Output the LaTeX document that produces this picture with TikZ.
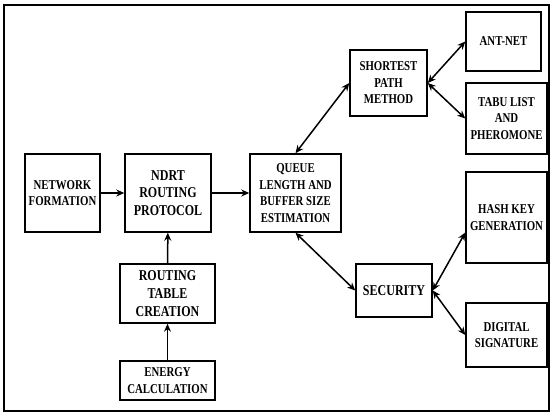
\documentclass[tikz,border=0pt]{standalone}
\usepackage{fontspec}
\setmainfont[FakeStretch=0.8]{Liberation Serif}
\usetikzlibrary{arrows.meta}
\tikzset{
  blk/.style={draw, line width=1.5pt, align=center, inner sep=1pt,
    font=\fontsize{13.5}{16.5}\selectfont\bfseries},
  bigblk/.style={blk, font=\fontsize{15}{17.7}\selectfont\bfseries},
}
\begin{document}
\begin{tikzpicture}[x=1pt,y=-1pt]
\useasboundingbox (0,0) rectangle (551,414);
\draw[line width=1.5pt] (4,5) rectangle (549,411);

\node[blk, minimum width=75pt, minimum height=78pt] (net) at (62.5,193) {NETWORK\\FORMATION};
\node[bigblk, minimum width=86pt, minimum height=78pt] (ndrt) at (168,193) {NDRT\\ROUTING\\PROTOCOL};
\node[blk, minimum width=91pt, minimum height=78pt] (queue) at (295.5,193) {QUEUE\\LENGTH AND\\BUFFER SIZE\\ESTIMATION};
\node[bigblk, minimum width=95pt, minimum height=59pt] (rtc) at (167.5,293.5) {ROUTING\\TABLE\\CREATION};
\node[blk, minimum width=95pt, minimum height=39pt] (energy) at (167.5,380.5) {ENERGY\\CALCULATION};
\node[blk, minimum width=77pt, minimum height=66pt] (spm) at (388.5,83) {SHORTEST\\PATH\\METHOD};
\node[blk, minimum width=75pt, minimum height=59pt] (ant) at (503.5,41.5) {ANT-NET};
\node[blk, minimum width=81pt, minimum height=71pt] (tabu) at (506.5,118.5) {TABU LIST\\AND\\PHEROMONE};
\node[bigblk, minimum width=76pt, minimum height=53pt] (sec) at (394,290.5) {SECURITY};
\node[blk, minimum width=81pt, minimum height=91pt] (hash) at (506.5,217.5) {HASH KEY\\GENERATION};
\node[blk, minimum width=81pt, minimum height=64pt] (dig) at (506.5,335) {DIGITAL\\SIGNATURE};

\path[draw,line width=1.5pt,->,>={Stealth[length=8pt,width=7pt]}] (net) -- (ndrt);
\path[draw,line width=1.5pt,->,>={Stealth[length=8pt,width=7pt]}] (ndrt) -- (queue);
\path[draw,line width=1.5pt,->,>={Stealth[length=8pt,width=7pt]}] (rtc) -- (ndrt);
\path[draw,line width=1.5pt,->,>={Stealth[length=8pt,width=7pt]}] (energy) -- (rtc);
\path[draw,line width=1.5pt,<->,>={Stealth[length=8pt,width=7pt]}] (queue.north) -- (spm.west);
\path[draw,line width=1.5pt,<->,>={Stealth[length=8pt,width=7pt]}] (spm.east) -- (ant.west);
\path[draw,line width=1.5pt,<->,>={Stealth[length=8pt,width=7pt]}] (spm.east) -- (tabu.west);
\path[draw,line width=1.5pt,<->,>={Stealth[length=8pt,width=7pt]}] (queue.south) -- (sec.west);
\path[draw,line width=1.5pt,<->,>={Stealth[length=8pt,width=7pt]}] (sec.east) -- (hash.200);
\path[draw,line width=1.5pt,<->,>={Stealth[length=8pt,width=7pt]}] (sec.east) -- (dig.west);
\end{tikzpicture}
\end{document}
